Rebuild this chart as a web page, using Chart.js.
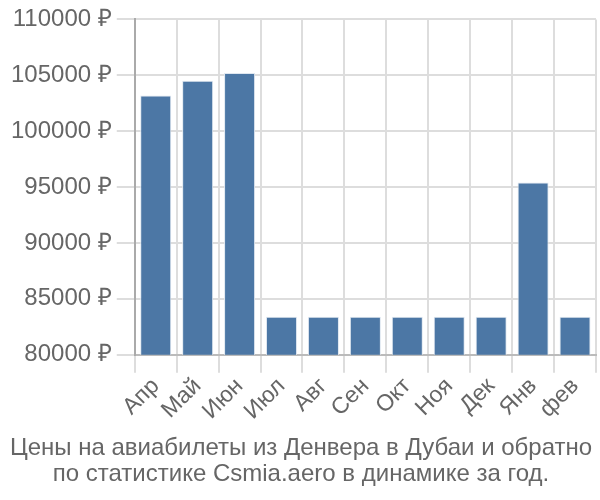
<!DOCTYPE html>
<html>
<head>
<meta charset="utf-8">
<script src="https://cdn.jsdelivr.net/npm/chart.js@4/dist/chart.umd.min.js"></script>
<style>
  body { margin: 0; background: #fff; }
  #wrap { width: 600px; height: 500px; }
</style>
</head>
<body>
<div id="wrap"><canvas id="myChart"></canvas></div>
<script>
const months = ["Апр", "Май", "Июн", "Июл", "Авг", "Сен", "Окт", "Ноя", "Дек", "Янв", "фев"];
const prices = [103200, 104500, 105200, 83400, 83400, 83400, 83400, 83400, 83400, 95400, 83400];
const titleLines = ["Цены на авиабилеты из Денвера в Дубаи и обратно", "по статистике Csmia.aero в динамике за год."];

Chart.defaults.font.family = "'Liberation Sans', Arial, sans-serif";
Chart.defaults.color = "#666";

const ctx = document.getElementById('myChart');
new Chart(ctx, {
  type: 'bar',
  data: {
    labels: months,
    datasets: [{
      data: prices,
      backgroundColor: "#4c77a5",
      borderColor: "#dfe7f0",
      borderWidth: 1,
      barPercentage: 0.74,
      categoryPercentage: 1.0
    }]
  },
  options: {
    responsive: true,
    maintainAspectRatio: false,
    animation: false,
    layout: { padding: { right: 4, top: 0, left: 6 } },
    plugins: {
      legend: { display: false },
      tooltip: { enabled: false },
      title: {
        display: true,
        position: 'bottom',
        text: titleLines,
        color: "#666",
        font: { size: 24, weight: 'normal', lineHeight: 1.1 },
        padding: { top: 10, bottom: 12 }
      }
    },
    scales: {
      x: {
        grid: { color: "#dddddd", tickLength: 18, lineWidth: 2 },
        border: { color: "#bbbbbb", width: 2 },
        ticks: { font: { size: 23 }, autoSkip: false, maxRotation: 45, minRotation: 45, padding: 0 }
      },
      y: {
        min: 80000,
        max: 110000,
        grid: { color: "#dddddd", tickLength: 18, lineWidth: 2 },
        border: { color: "#aaaaaa", width: 2 },
        ticks: {
          stepSize: 5000,
          font: { size: 24 },
          padding: 5,
          callback: (v) => v + " ₽"
        }
      }
    }
  }
});
</script>
</body>
</html>
